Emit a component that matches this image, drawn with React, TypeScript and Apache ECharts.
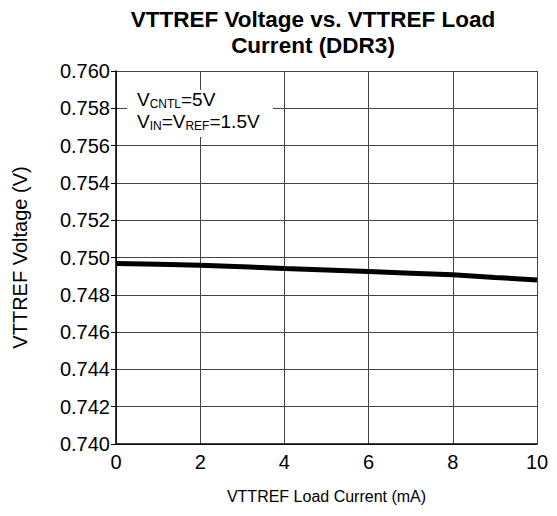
import React, { useEffect, useRef } from "react";
import * as echarts from "echarts";

const currentMA = [0, 1, 2, 3, 4, 5, 6, 7, 8, 9, 10];
const voltageV = [0.74968, 0.74964, 0.74959, 0.7495, 0.74941, 0.74933, 0.74925, 0.74916, 0.74907, 0.74893, 0.7488];
const titleText = "VTTREF Voltage vs. VTTREF Load\nCurrent (DDR3)";
const xName = "VTTREF Load Current (mA)";
const yName = "VTTREF Voltage (V)";

const FONT = "Liberation Sans, Arial, sans-serif";

export default function App() {
  const ref = useRef<HTMLDivElement>(null);
  useEffect(() => {
    const chart = echarts.init(ref.current!, null, { renderer: "svg" });
    const data = currentMA.map((x, i) => [x, voltageV[i]]);
    chart.setOption({
      animation: false,
      backgroundColor: "#fff",
      title: {
        text: titleText,
        left: 308,
        textAlign: "center",
        top: 1,
        textStyle: { fontFamily: FONT, fontSize: 22.5, fontWeight: "bold", color: "#000", lineHeight: 26 },
      },
      grid: { left: 116, right: 20, top: 71, bottom: 72 },
      xAxis: {
        type: "value",
        min: 0,
        max: 10,
        interval: 2,
        name: xName,
        nameLocation: "middle",
        nameGap: 44,
        nameTextStyle: { fontFamily: FONT, fontSize: 16, color: "#000" },
        axisLine: { show: true, lineStyle: { color: "#000", width: 1.5 } },
        axisTick: { show: false },
        axisLabel: { fontFamily: FONT, fontSize: 20, color: "#000", margin: 8 },
        splitLine: { show: true, lineStyle: { color: "#444", width: 1 } },
      },
      yAxis: {
        type: "value",
        min: 0.74,
        max: 0.76,
        interval: 0.002,
        name: yName,
        nameLocation: "middle",
        nameGap: 86,
        nameTextStyle: { fontFamily: FONT, fontSize: 20, color: "#000" },
        axisLine: { show: true, lineStyle: { color: "#000", width: 1.5 } },
        axisTick: { show: true, length: 5, lineStyle: { color: "#000" } },
        axisLabel: {
          fontFamily: FONT,
          fontSize: 20,
          color: "#000",
          margin: 6,
          formatter: (v: number) => v.toFixed(3),
        },
        splitLine: { show: true, lineStyle: { color: "#444", width: 1 } },
      },
      series: [
        {
          type: "line",
          data,
          symbol: "none",
          lineStyle: { color: "#000", width: 5 },
          z: 3,
        },
      ],
      graphic: [
        {
          type: "rect",
          shape: { x: 127, y: 90, width: 146, height: 47 },
          style: { fill: "#fff" },
          z: 10,
        },
        {
          type: "text",
          x: 137,
          y: 88,
          z: 11,
          style: {
            text: "{v|V}{s|CNTL}{v|=5V}\n{v|V}{s|IN}{v|=V}{s|REF}{v|=1.5V}",
            fontFamily: FONT,
            rich: {
              v: { fontFamily: FONT, fontSize: 19, color: "#000", lineHeight: 22 },
              s: { fontFamily: FONT, fontSize: 12, color: "#000", lineHeight: 22, verticalAlign: "bottom", padding: [9, 0, 0, 0] },
            },
          },
        },
      ],
    });
    return () => chart.dispose();
  }, []);
  return <div ref={ref} style={{ width: 557, height: 516, margin: -8 }} />;
}
